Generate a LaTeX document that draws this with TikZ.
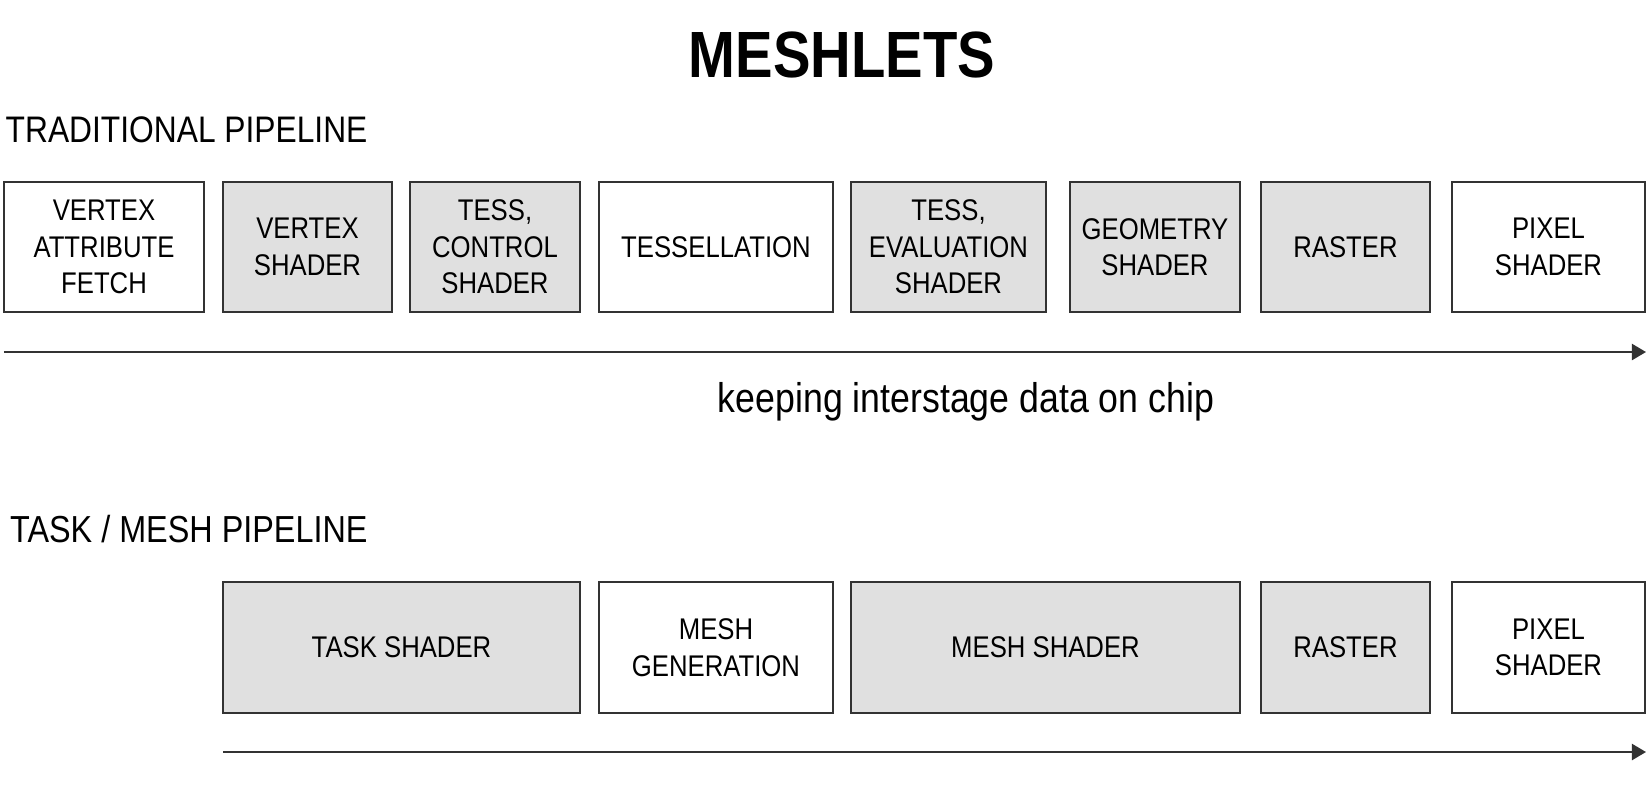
\documentclass[tikz,border=0pt]{standalone}
\usepackage{fontspec}
\setmainfont[FakeStretch=0.86]{Liberation Sans}
\usepackage{tikz}
\usetikzlibrary{arrows.meta}
\usepackage{xcolor}
\definecolor{shade}{HTML}{E0E0E0}
\definecolor{rim}{HTML}{333333}

\tikzset{
    stage/.style={draw=rim, line width=0.6pt, align=center, inner sep=0pt,
        font=\fontsize{8.5}{10.4}\selectfont},
    flow/.style={draw=rim, line width=0.6pt, -{Triangle[length=0.14cm, width=0.16cm]}},
}

\begin{document}
\begin{tikzpicture}[x=0.01cm, y=-0.01cm]
        % Page frame (fixes the margins)
        \useasboundingbox (0,0) rectangle (1650,793);
        % Title and headings
        \node (title) at (842,55) {\fontsize{18.6}{20}\selectfont\bfseries MESHLETS};
        \node[anchor=base west, inner sep=0pt] (trad) at (5,142) {\fontsize{10.5}{12}\selectfont TRADITIONAL PIPELINE};
        \node[anchor=base west, inner sep=0pt] (task) at (9.5,542) {\fontsize{10.7}{12}\selectfont TASK / MESH PIPELINE};
        % Traditional pipeline stages
        \node[stage, fill=white, minimum width=1.99cm, minimum height=1.3cm] (vaf) at (104,247) {VERTEX\\ATTRIBUTE\\FETCH};
        \node[stage, fill=shade, minimum width=1.69cm, minimum height=1.3cm] (vs) at (307.5,247) {VERTEX\\SHADER};
        \node[stage, fill=shade, minimum width=1.70cm, minimum height=1.3cm] (tcs) at (495,247) {TESS,\\CONTROL\\SHADER};
        \node[stage, fill=white, minimum width=2.34cm, minimum height=1.3cm] (tess) at (716,247) {TESSELLATION};
        \node[stage, fill=shade, minimum width=1.95cm, minimum height=1.3cm] (tes) at (948.5,247) {TESS,\\EVALUATION\\SHADER};
        \node[stage, fill=shade, minimum width=1.70cm, minimum height=1.3cm] (gs) at (1155,247) {GEOMETRY\\SHADER};
        \node[stage, fill=shade, minimum width=1.69cm, minimum height=1.3cm] (ras) at (1345.5,247) {RASTER};
        \node[stage, fill=white, minimum width=1.93cm, minimum height=1.3cm] (ps) at (1548.5,247) {PIXEL\\SHADER};
        \coordinate (tradL) at (4,352);
        \coordinate (tradR) at (1646,352);
        \draw[flow] (tradL) -- (tradR);
        \node[anchor=base, inner sep=0pt] (chip) at (966,412) {\fontsize{11.8}{13}\selectfont keeping interstage data on chip};
        % Task / mesh pipeline stages
        \node[stage, fill=shade, minimum width=3.57cm, minimum height=1.31cm] (ts) at (401.5,647.5) {TASK SHADER};
        \node[stage, fill=white, minimum width=2.34cm, minimum height=1.31cm] (mg) at (716,647.5) {MESH\\GENERATION};
        \node[stage, fill=shade, minimum width=3.89cm, minimum height=1.31cm] (ms) at (1045.5,647.5) {MESH SHADER};
        \node[stage, fill=shade, minimum width=1.69cm, minimum height=1.31cm] (ras2) at (1345.5,647.5) {RASTER};
        \node[stage, fill=white, minimum width=1.93cm, minimum height=1.31cm] (ps2) at (1548.5,647.5) {PIXEL\\SHADER};
        \coordinate (meshL) at (223,752);
        \coordinate (meshR) at (1646,752);
        \draw[flow] (meshL) -- (meshR);
    \end{tikzpicture}
\end{document}
